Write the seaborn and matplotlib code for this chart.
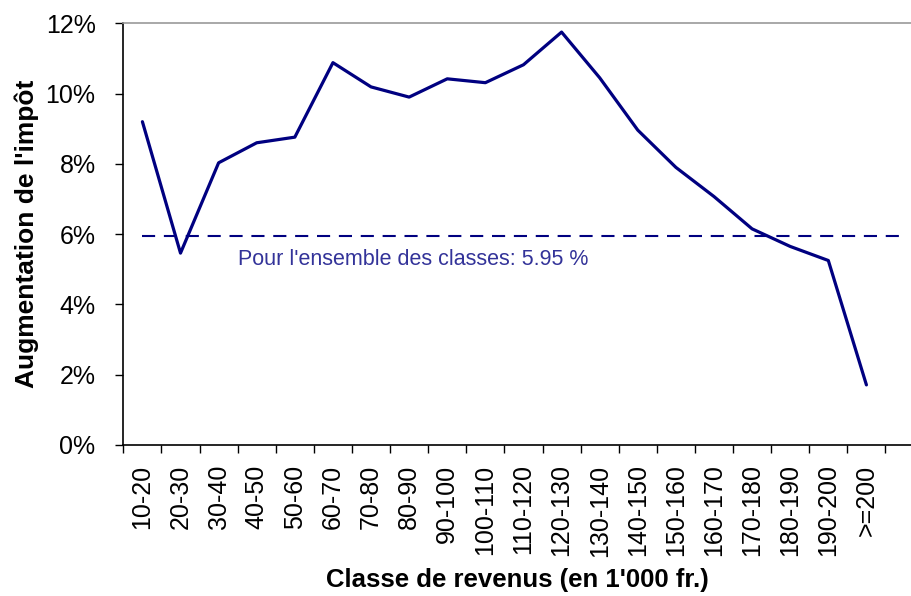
import numpy as np
import pandas as pd
import matplotlib
matplotlib.use("Agg")
import matplotlib.pyplot as plt
from matplotlib.ticker import FuncFormatter, FixedLocator, NullFormatter
import seaborn as sns

categories = ["10-20", "20-30", "30-40", "40-50", "50-60", "60-70", "70-80", "80-90",
              "90-100", "100-110", "110-120", "120-130", "130-140", "140-150",
              "150-160", "160-170", "170-180", "180-190", "190-200", ">=200"]
increase_pct = [9.2, 5.46, 8.03, 8.6, 8.76, 10.88, 10.19, 9.9, 10.42, 10.31,
                10.82, 11.75, 10.45, 8.96, 7.9, 7.07, 6.15, 5.65, 5.25, 1.71]
overall_pct = 5.95
overall_label = "Pour l'ensemble des classes: 5.95 %"

sns.set_theme(style="white")
plt.rcParams["font.family"] = ["Liberation Sans", "DejaVu Sans"]

df = pd.DataFrame({"classe": categories, "augmentation": increase_pct})

fig = plt.figure(figsize=(9.11, 5.96), dpi=100)
ax = fig.add_axes([0.1354, 0.2534, 0.8646, 0.7075])

sns.lineplot(data=df, x="classe", y="augmentation", ax=ax, color="#000080",
             linewidth=2.3, sort=False)
ax.hlines(overall_pct, 0, len(categories), colors="#000080", linestyles=(0, (6.3, 4.2)),
          linewidth=1.5)
ax.text(2.5, overall_pct - 0.66, overall_label, color="#333399", fontsize=15.5,
        ha="left", va="center")

ax.set_ylim(0, 12)
ax.set_xlim(-0.5, 20.17)
ax.set_yticks(np.arange(0, 13, 2))
ax.yaxis.set_major_formatter(FuncFormatter(lambda v, p: f"{int(v)}%"))
ax.set_xticks(range(len(categories)))
ax.set_xticklabels(categories, rotation=90, va="top", ha="center")
ax.xaxis.set_minor_locator(FixedLocator(np.arange(-0.5, len(categories) + 0.6, 1.0)))
ax.xaxis.set_minor_formatter(NullFormatter())
ax.tick_params(axis="x", which="major", length=0, pad=14, labelsize=18,
               labelcolor="black")
ax.tick_params(axis="x", which="minor", length=6, width=1, color="black",
               direction="out", bottom=True)
ax.tick_params(axis="y", which="major", length=6, width=1, pad=14, labelsize=18,
               color="black", labelcolor="black", direction="out", left=True)

ax.set_xlabel("Classe de revenus (en 1'000 fr.)", fontsize=18.5, fontweight="bold",
              labelpad=8, color="black")
ax.set_ylabel("Augmentation de l'impôt", fontsize=19, fontweight="bold",
              labelpad=5, color="black")

for s in ["left", "bottom"]:
    ax.spines[s].set_color("black")
    ax.spines[s].set_linewidth(1.2)
ax.spines["top"].set_color("#999999")
ax.spines["top"].set_linewidth(1.2)
ax.spines["right"].set_visible(False)
ax.grid(False)

fig.savefig("out.png", dpi=100)
